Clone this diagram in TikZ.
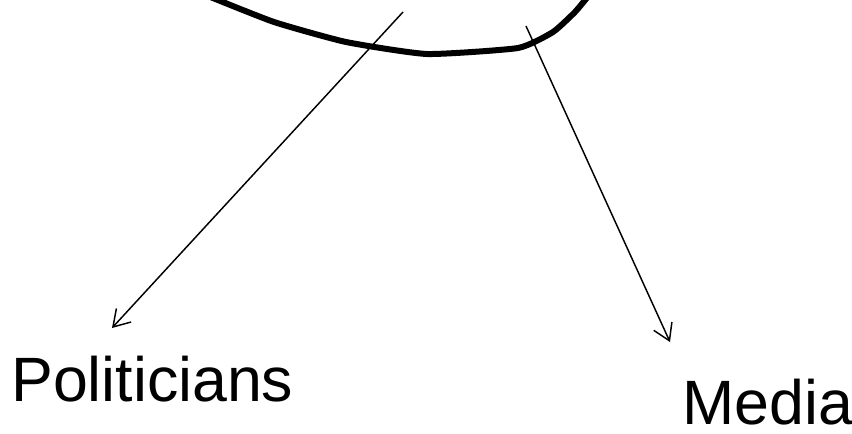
\documentclass[tikz,border=0pt]{standalone}
\usepackage{fontspec}
\setmainfont{Liberation Sans}
\usetikzlibrary{arrows.meta}

\begin{document}
\begin{tikzpicture}[
    x=0.75pt, y=-0.75pt,
    who/.style={inner sep=0pt, font=\fontsize{47}{56}\selectfont},
    blob/.style={line width=4.5pt, line join=round, line cap=round},
    link/.style={draw, line width=1.1pt, -{Straight Barb[length=12pt, width=15pt]}}
]
\useasboundingbox (0,0) rectangle (852,433);
\clip (0,0) rectangle (852,433);
\draw[blob] plot[smooth, tension=0.3] coordinates
    {(208,-4) (274,22) (346,42) (427,54) (518,48) (553,32) (575,12) (590,-6)};
\node[who, anchor=base west] (pol) at (11,401) {Politicians};
\node[who, anchor=base west] (med) at (682,424) {Media};
\coordinate (polfrom) at (403,12);
\coordinate (medfrom) at (526,26);
\draw[link] (polfrom) -- ([shift={(101,-73)}]pol.base west);
\draw[link] (medfrom) -- ([shift={(-12,-82)}]med.base west);
\end{tikzpicture}
\end{document}
